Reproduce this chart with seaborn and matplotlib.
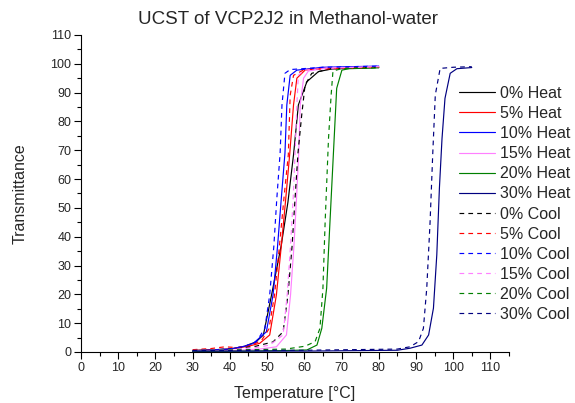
import matplotlib
matplotlib.use("Agg")
import matplotlib.pyplot as plt
import seaborn as sns

# temperature [°C] and transmittance [%]
heat0_t = [30, 40, 44, 47, 49, 51.2, 53.8, 55.6, 57.1, 58.4, 60.7, 63.8, 67.4, 80]
heat0_y = [0.5, 1.0, 2.0, 3.5, 5.9, 19.8, 37, 52, 68.4, 85.7, 93.8, 97.3, 98.2, 98.8]

heat5_t = [30, 40, 45, 48, 50.7, 52.5, 53.8, 55.0, 56.1, 57.1, 58, 60.2, 65, 80]
heat5_y = [0.5, 1.0, 2.0, 3.0, 5.9, 19.8, 36.5, 53, 69, 85.7, 95, 97.8, 98.5, 98.8]

heat10_t = [30, 40, 44, 46.3, 49.8, 51.6, 52.8, 53.8, 54.8, 55.3, 56.2, 58, 65, 80]
heat10_y = [0.4, 1.0, 2.0, 3.0, 7.0, 19.8, 36.5, 53, 69, 85.7, 96, 97.8, 98.8, 99.2]

heat15_t = [30, 40, 48, 52.5, 55.2, 56.3, 57.2, 57.9, 58.5, 58.9, 59.8, 61.1, 66, 80]
heat15_y = [0.3, 0.5, 1.0, 1.8, 5.9, 19.8, 36.5, 53, 69, 85.7, 95, 97.5, 98.5, 99]

heat20_t = [30, 45, 55, 60.7, 63.4, 64.7, 66.0, 66.9, 67.8, 68.7, 70.1, 72, 80]
heat20_y = [0.2, 0.3, 0.5, 0.7, 2.4, 8.2, 22.1, 45.2, 68.4, 91.5, 97.8, 98.3, 98.6]

heat30_t = [30, 60, 85, 88.4, 91.6, 93.4, 94.7, 95.6, 96.3, 97.0, 97.8, 99.2, 101, 105]
heat30_y = [0.3, 0.3, 0.6, 1.3, 2.4, 5.9, 15.2, 33.7, 56.8, 74, 88, 96.7, 98.3, 98.7]

cool0_t = [30, 40, 47, 51.6, 54.3, 55.6, 56.7, 57.5, 58.3, 59.3, 60.2, 62, 67, 80]
cool0_y = [0.5, 1.0, 2.0, 3.5, 7.0, 19.8, 36.5, 53, 69, 82.2, 92.6, 96.7, 98.3, 98.8]

cool5_t = [30, 35, 38.7, 42, 46, 48.5, 50.5, 52.0, 53.3, 54.5, 55.7, 56.2, 57.1, 60, 80]
cool5_y = [0.8, 1.2, 1.8, 1.5, 2.5, 4.0, 8, 19.8, 36.5, 53, 68.4, 89, 96, 98, 98.8]

cool10_t = [30, 40, 44, 47.1, 49.4, 50.7, 51.8, 52.6, 53.5, 54.0, 54.8, 56.2, 65, 80]
cool10_y = [0.5, 1.0, 2.0, 3.5, 8.2, 19.8, 36.5, 53, 69, 85.7, 96.7, 98, 98.8, 99.2]

cool15_t = [30, 40, 47, 50.7, 54.3, 55.4, 56.3, 57.0, 57.5, 58, 58.4, 60, 66, 80]
cool15_y = [0.5, 0.8, 1.5, 2.4, 5.9, 19.8, 37, 53, 68.4, 85.7, 96, 97.8, 98.5, 99]

cool20_t = [30, 45, 55, 60.2, 62.9, 64.2, 65.0, 65.6, 66.5, 67.2, 67.7, 70, 80]
cool20_y = [0.5, 0.8, 1.0, 2.0, 3.6, 8.2, 22, 45.2, 74, 89, 97.5, 98.3, 98.6]

cool30_t = [30, 60, 85, 88.4, 90.7, 92.0, 92.9, 93.8, 94.5, 95.2, 96.5, 100, 105]
cool30_y = [0.5, 0.6, 1.0, 1.8, 3.6, 8.2, 22.1, 45.2, 68.4, 89.2, 98.4, 98.8, 99]

labels = ["0%", "5%", "10%", "15%", "20%", "30%"]
colors = ["#000000", "#FF0000", "#0000FF", "#FF80FF", "#008000", "#000080"]

heat_series = [(heat0_t, heat0_y), (heat5_t, heat5_y), (heat10_t, heat10_y),
               (heat15_t, heat15_y), (heat20_t, heat20_y), (heat30_t, heat30_y)]
cool_series = [(cool0_t, cool0_y), (cool5_t, cool5_y), (cool10_t, cool10_y),
               (cool15_t, cool15_y), (cool20_t, cool20_y), (cool30_t, cool30_y)]

sns.set_style("ticks")
plt.rcParams['font.family'] = ['Liberation Sans', 'DejaVu Sans']

fig = plt.figure(figsize=(5.75, 4.03), dpi=100)
ax = fig.add_axes([0.1409, 0.1266, 0.7443, 0.7866])

for (t, y), lab, col in zip(heat_series, labels, colors):
    sns.lineplot(x=t, y=y, color=col, linewidth=0.85, label=f"{lab} Heat", ax=ax,
                 sort=False)
for (t, y), lab, col in zip(cool_series, labels, colors):
    sns.lineplot(x=t, y=y, color=col, linewidth=0.85, label=f"{lab} Cool", ax=ax,
                 sort=False, linestyle=(0, (4, 3.5)))

ax.set_xlim(0, 115)
ax.set_ylim(0, 110)
ax.set_xticks(range(0, 111, 10))
ax.set_xticks(range(5, 116, 10), minor=True)
ax.set_yticks(range(0, 111, 10))
ax.set_yticks(range(5, 110, 10), minor=True)
ax.tick_params(axis='both', which='major', length=5, width=0.8, labelsize=9,
               direction='out', color='black', pad=2)
ax.tick_params(axis='both', which='minor', length=3, width=0.8, direction='out',
               color='black')
for s in ['top', 'right']:
    ax.spines[s].set_visible(False)
for s in ['left', 'bottom']:
    ax.spines[s].set_linewidth(0.8)
    ax.spines[s].set_color('black')

ax.set_xlabel("Temperature [°C]", fontsize=11.5, labelpad=9)
ax.set_ylabel("Transmittance", fontsize=11.5, labelpad=16)
fig.suptitle("UCST of VCP2J2 in Methanol-water", fontsize=13.5, x=0.5, y=0.972)

ax.legend(loc='upper left', bbox_to_anchor=(0.798, 0.787),
          bbox_transform=fig.transFigure, frameon=False, fontsize=11.5,
          handlelength=2.25, handletextpad=0.3, labelspacing=0.32,
          borderpad=0, borderaxespad=0)

fig.savefig("out.png", dpi=100)
